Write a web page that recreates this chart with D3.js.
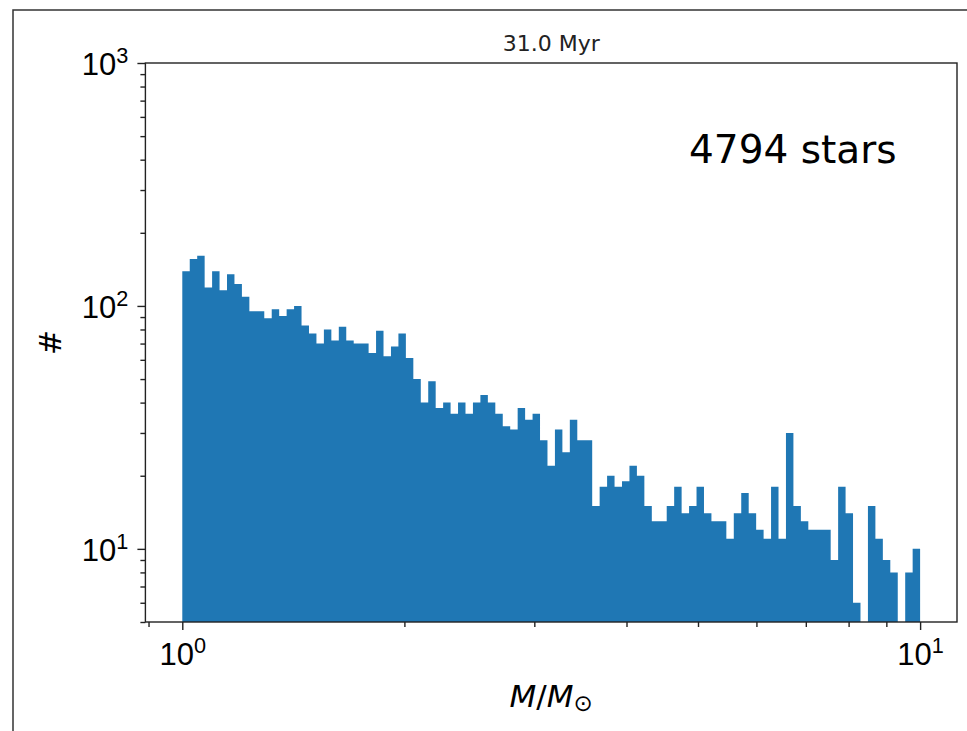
<!DOCTYPE html>
<html>
<head>
<meta charset="utf-8">
<script src="https://cdn.jsdelivr.net/npm/d3@7"></script>
<style>
  body { margin: 0; background: #fff; }
  svg { font-family: "DejaVu Sans", sans-serif; }
</style>
</head>
<body>
<div id="chart"></div>
<script>
// Histogram counts, 99 log-spaced bins between 1 and 10 solar masses
var binCounts = [
  139, 156, 161, 119, 139, 116, 135, 123, 109, 95,
  95, 89, 97, 91, 97, 100, 83, 77, 70, 80,
  72, 82, 72, 70, 70, 64, 79, 62, 68, 77,
  61, 50, 40, 49, 38, 40, 36, 40, 36, 40,
  43, 40, 36, 32, 31, 38, 34, 36, 28, 22,
  31, 25, 34, 28, 28, 15, 18, 20, 18, 19,
  22, 20, 15, 13, 13, 15, 18, 14, 15, 18,
  14, 13, 13, 11, 14, 17, 14, 12, 11, 18,
  11, 30, 15, 13, 12, 12, 12, 9, 18, 14,
  6, 5, 15, 11, 9, 8, 5, 8, 10
];
var massRange = [1, 10];

// Tick values
var majorX = [1, 10];
var minorX = [0.9, 2, 3, 4, 5, 6, 7, 8, 9];
var majorY = [10, 100, 1000];
var minorY = [5, 6, 7, 8, 9, 20, 30, 40, 50, 60, 70, 80, 90, 200, 300, 400, 500, 600, 700, 800, 900];

var titleText = "31.0 Myr";
var starsText = "4794 stars";

// bin edges (log spaced)
var nBins = binCounts.length;
var binEdges = d3.range(nBins + 1).map(function(i) {
  return Math.pow(10, Math.log10(massRange[0]) + i / nBins * (Math.log10(massRange[1]) - Math.log10(massRange[0])));
});

var svgWidth = 967;
var svgHeight = 731;

var plot = { left: 145.4, right: 957, top: 63, bottom: 622 };

var svg = d3.select("#chart")
  .append("svg")
  .attr("width", svgWidth)
  .attr("height", svgHeight);

// slide frame lines
svg.append("path")
  .attr("d", "M13,731 L13,10 L967,10")
  .attr("fill", "none")
  .attr("stroke", "#333")
  .attr("stroke-width", 1.5);

// log scales with 5% margin on x
var xScale = d3.scaleLog()
  .domain([Math.pow(10, -0.05), Math.pow(10, 1.05)])
  .range([plot.left, plot.right]);

var yScale = d3.scaleLog()
  .domain([5, 1000])
  .range([plot.bottom, plot.top]);

svg.append("clipPath").attr("id", "clip")
  .append("rect")
  .attr("x", plot.left).attr("y", plot.top)
  .attr("width", plot.right - plot.left)
  .attr("height", plot.bottom - plot.top);

// bars drawn as one stepped area so neighbouring bins show no seams
var stepData = binCounts.map(function(d, i) { return { edge: binEdges[i], count: d }; });
stepData.push({ edge: binEdges[nBins], count: binCounts[nBins - 1] });

var histArea = d3.area()
  .curve(d3.curveStepAfter)
  .x(function(d) { return xScale(d.edge); })
  .y0(plot.bottom)
  .y1(function(d) { return yScale(Math.max(d.count, 5)); });

svg.append("path")
  .datum(stepData)
  .attr("clip-path", "url(#clip)")
  .attr("d", histArea)
  .attr("fill", "#1f77b4");

// superscript labels like 10^2
function powerLabel(sel) {
  sel.each(function(d) {
    var t = d3.select(this);
    t.text(null);
    t.append("tspan").text("10");
    t.append("tspan")
      .attr("dy", "-0.55em")
      .attr("font-size", "0.7em")
      .text(Math.round(Math.log10(d)));
  });
}

// y axis
var leftMinor = d3.axisLeft(yScale).tickValues(minorY).tickSize(5).tickFormat("");
var leftMajor = d3.axisLeft(yScale).tickValues(majorY).tickSize(8).tickPadding(9);

var gyMinor = svg.append("g").attr("transform", "translate(" + plot.left + ",0)").call(leftMinor);
var gyMajor = svg.append("g").attr("transform", "translate(" + plot.left + ",0)").call(leftMajor);
gyMajor.selectAll("text")
  .attr("dy", "0.36em")
  .attr("font-size", 31)
  .attr("fill", "#000")
  .call(powerLabel);

// x axis
var bottomMinor = d3.axisBottom(xScale).tickValues(minorX).tickSize(5).tickFormat("");
var bottomMajor = d3.axisBottom(xScale).tickValues(majorX).tickSize(8);

var gxMinor = svg.append("g").attr("transform", "translate(0," + plot.bottom + ")").call(bottomMinor);
var gxMajor = svg.append("g").attr("transform", "translate(0," + plot.bottom + ")").call(bottomMajor);
gxMajor.selectAll("text")
  .attr("y", 43)
  .attr("dy", 0)
  .attr("font-size", 31)
  .attr("fill", "#000")
  .call(powerLabel);

[gyMinor, gyMajor, gxMinor, gxMajor].forEach(function(g) {
  g.select(".domain").remove();
  g.selectAll("line").attr("stroke", "#222").attr("stroke-width", 1.4);
});

// spines
svg.append("rect")
  .attr("x", plot.left).attr("y", plot.top)
  .attr("width", plot.right - plot.left)
  .attr("height", plot.bottom - plot.top)
  .attr("fill", "none")
  .attr("stroke", "#222")
  .attr("stroke-width", 1.4);

// title
svg.append("text")
  .attr("x", (plot.left + plot.right) / 2)
  .attr("y", 51)
  .attr("text-anchor", "middle")
  .attr("font-size", 22)
  .attr("fill", "#222")
  .text(titleText);

// stars count annotation
svg.append("text")
  .attr("x", 689)
  .attr("y", 163)
  .attr("font-size", 39)
  .attr("fill", "#000")
  .text(starsText);

// y label
svg.append("text")
  .attr("transform", "translate(61," + ((plot.top + plot.bottom) / 2) + ") rotate(-90)")
  .attr("text-anchor", "middle")
  .attr("font-size", 30)
  .attr("fill", "#000")
  .text("#");

// x label: M/M_sun
var xl = svg.append("text")
  .attr("x", (plot.left + plot.right) / 2)
  .attr("y", 707)
  .attr("text-anchor", "middle")
  .attr("font-size", 31)
  .attr("fill", "#000");
xl.append("tspan").attr("font-style", "italic").text("M");
xl.append("tspan").text("/");
xl.append("tspan").attr("font-style", "italic").text("M");
xl.append("tspan").attr("font-size", 23).attr("dy", 4).text("\u2299");
</script>
</body>
</html>
